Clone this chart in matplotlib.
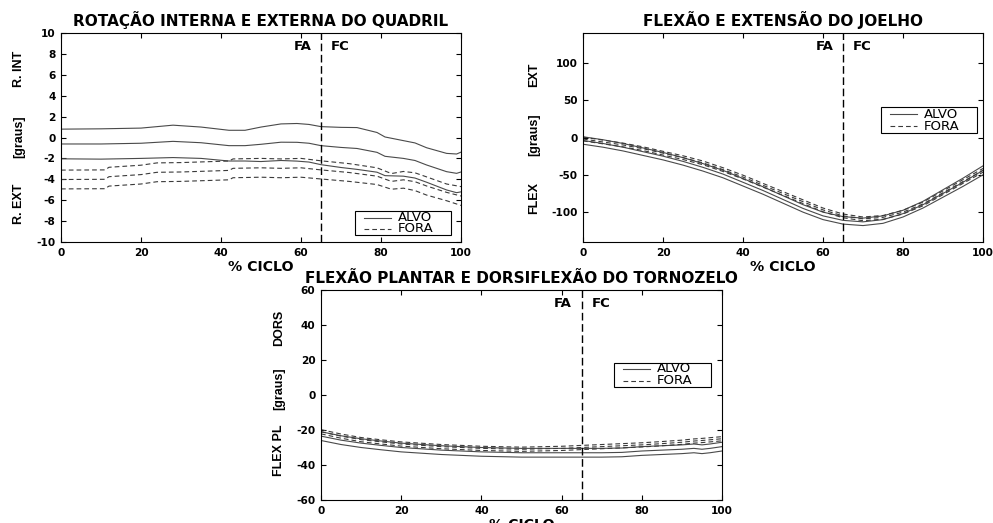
import numpy as np
import matplotlib
matplotlib.use("Agg")
import matplotlib.pyplot as plt
import matplotlib.transforms as mtransforms
from matplotlib import font_manager
from matplotlib.lines import Line2D
from matplotlib.patches import Rectangle

# ---------------------------------------------------------------
# Gait-cycle kinematics: mean and standard deviation per group
# ---------------------------------------------------------------
cycle_ticks = [0, 20, 40, 60, 80, 100]
toe_off = 65  # end of stance (FA) / start of swing (FC)
group_names = ["ALVO", "FORA"]

# Hip internal / external rotation [graus]
hip_alvo_x = [0, 10, 20, 28, 35, 42, 46, 50, 55, 59, 62, 65, 70, 74, 79, 81,
              85.6, 88.5, 91.4, 96.4, 98.9, 100]
hip_alvo_mean = [-0.62, -0.62, -0.55, -0.37, -0.5, -0.78, -0.78, -0.65, -0.45,
                 -0.46, -0.55, -0.78, -0.95, -1.05, -1.42, -1.8, -2.0, -2.2,
                 -2.63, -3.27, -3.43, -3.3]
hip_alvo_sd = [1.42, 1.45, 1.45, 1.55, 1.5, 1.47, 1.47, 1.65, 1.75, 1.8, 1.8,
               1.82, 1.92, 2.0, 1.9, 1.85, 1.7, 1.68, 1.65, 1.75, 1.85, 1.9]
hip_fora_x = [0, 11, 12, 20, 24, 30, 38, 42, 43, 50, 55, 60, 65, 72, 79, 82.6,
              85.6, 88.5, 91.4, 96.4, 100]
hip_fora_mean = [-4.02, -4.0, -3.75, -3.55, -3.33, -3.3, -3.2, -3.15, -2.95,
                 -2.9, -2.95, -2.9, -3.1, -3.35, -3.7, -4.2, -4.05, -4.23,
                 -4.64, -5.25, -5.6]
hip_fora_sd = [0.9, 0.9, 0.9, 0.9, 0.9, 0.9, 0.9, 0.9, 0.9, 0.9, 0.9, 0.9,
               0.87, 0.85, 0.8, 0.75, 0.8, 0.85, 0.87, 0.8, 0.9]

# Knee flexion / extension [graus]
knee_x = [0, 5, 10, 15, 20, 25, 30, 35, 40, 45, 50, 55, 60, 65, 70, 75, 80,
          85, 90, 95, 100]
knee_alvo_mean = [-4, -8, -13, -19, -25, -32, -40, -49, -60, -71, -83, -95,
                  -105, -111, -113, -110, -102, -90, -75, -60, -44]
knee_alvo_sd = [5, 5, 5, 5, 5, 5, 5, 5, 5, 5, 5, 5, 5, 5, 5, 5, 4.5, 4.5, 5,
                5.5, 6]
knee_fora_mean = [-2, -6, -10, -15, -21, -27, -34, -43, -53, -64, -75, -86,
                  -97, -105, -109, -107, -100, -89, -74, -59, -44]
knee_fora_sd = [2.5] * 21

# Ankle plantar flexion / dorsiflexion [graus]
ankle_x = [0, 5, 10, 15, 20, 30, 40, 50, 60, 65, 70, 75, 80, 85, 90, 93, 95,
           97, 100]
ankle_alvo_mean = [-23.5, -25.8, -27.5, -28.8, -30, -31.5, -32.5, -33, -33,
                   -33, -33, -32.8, -32, -31.5, -31, -30.5, -31, -30.5, -29.5]
ankle_alvo_sd = [2.5] * 19
ankle_fora_mean = [-21, -23.5, -25.5, -26.8, -28, -29.5, -30.5, -31, -30.5,
                   -30, -29.5, -29, -28.5, -27.8, -27, -26.3, -26, -25.6, -25]
ankle_fora_sd = [1.2] * 19

plt.rcParams["font.family"] = ["DejaVu Sans"]
plt.rcParams["lines.scale_dashes"] = False
plt.rcParams["axes.unicode_minus"] = False


def pick_family(candidates):
    for name in candidates:
        try:
            font_manager.findfont(font_manager.FontProperties(family=name),
                                  fallback_to_default=False)
            return name
        except Exception:
            continue
    return "DejaVu Sans"


narrow = pick_family(["Liberation Sans Narrow", "DejaVu Sans Condensed"])
side_size = 10.0 if narrow != "DejaVu Sans" else 9.0
if narrow == "DejaVu Sans":
    narrow = pick_family(["Liberation Sans"])

W, H = 993, 523
fig = plt.figure(figsize=(W / 100, H / 100), dpi=100)
fig.patch.set_facecolor("white")


def fig_xy(px, py):
    return px / W, 1 - py / H


def px_axes(left, top, right, bottom):
    return fig.add_axes([left / W, 1 - bottom / H, (right - left) / W,
                         (bottom - top) / H])


SOLID = dict(color="#4a4a4a", lw=0.8, linestyle="-")
DASH = dict(color="#3a3a3a", lw=0.8, linestyle=(0, (3.4, 2.2)))
TICKFONT = font_manager.FontProperties(family="DejaVu Sans", weight="bold",
                                       size=7.6)
YLAB = dict(family=narrow, weight="bold", size=side_size, rotation=90,
            ha="center", va="center")


def legend_box(box, rows):
    """Framed key with a solid and a dashed sample, in figure pixels."""
    l, t, r, b = box
    x0, y0 = fig_xy(l, b)
    x1, y1 = fig_xy(r, t)
    fig.add_artist(Rectangle((x0, y0), x1 - x0, y1 - y0,
                             transform=fig.transFigure, facecolor="white",
                             edgecolor="black", lw=0.8, zorder=5))
    for row_y, style, name in zip(rows, (SOLID, DASH), group_names):
        hx0, hy = fig_xy(l + 9, row_y)
        hx1, _ = fig_xy(l + 36, row_y)
        fig.add_artist(Line2D([hx0, hx1], [hy, hy], transform=fig.transFigure,
                              zorder=6, **style))
        tx, _ = fig_xy(l + 43, row_y)
        fig.text(tx, hy, name, ha="left", va="center", size=9.5,
                 family="DejaVu Sans", zorder=6)


def panel(ax, title, ylim, yticks, groups, ylabels, leg_box, leg_rows):
    for x, mean, sd, style in groups:
        m = np.asarray(mean, float)
        s = np.asarray(sd, float)
        for curve in (m + s, m, m - s):
            ax.plot(x, curve, **style)
    ax.set_xlim(0, 100)
    ax.set_ylim(*ylim)
    ax.set_xticks(cycle_ticks)
    ax.set_yticks(yticks)
    ax.tick_params(direction="in", top=True, right=True, length=3.5,
                   width=0.8, pad=4.0)
    for lab in ax.get_xticklabels() + ax.get_yticklabels():
        lab.set_fontproperties(TICKFONT)
    for sp in ax.spines.values():
        sp.set_linewidth(0.8)
        sp.set_color("black")
    ax.axvline(toe_off, color="black", lw=1.0, linestyle=(0, (5.5, 2.6)))
    tr = mtransforms.blended_transform_factory(ax.transData, ax.transAxes)
    ax.text(toe_off - 2.4, 0.935, "FA", transform=tr, ha="right", va="center",
            size=9.5, weight="bold")
    ax.text(toe_off + 2.4, 0.935, "FC", transform=tr, ha="left", va="center",
            size=9.5, weight="bold")
    ax.set_title(title, fontsize=11, fontweight="bold", pad=5.0)
    ax.set_xlabel("% CICLO", fontsize=10.2, fontweight="bold", labelpad=1.5)
    legend_box(leg_box, leg_rows)
    for (pos, text) in ylabels:
        fig.text(*fig_xy(*pos), text, **YLAB)


ax_hip = px_axes(61, 33, 461, 242)
panel(ax_hip, "ROTAÇÃO INTERNA E EXTERNA DO QUADRIL", (-10, 10),
      list(range(-10, 11, 2)),
      [(hip_alvo_x, hip_alvo_mean, hip_alvo_sd, SOLID),
       (hip_fora_x, hip_fora_mean, hip_fora_sd, DASH)],
      [((19, 69), "R. INT"), ((19, 137), "[graus]"), ((19, 204), "R. EXT")],
      (355, 211, 451, 235), (217.5, 229))

ax_knee = px_axes(583, 33, 983, 242)
panel(ax_knee, "FLEXÃO E EXTENSÃO DO JOELHO", (-140, 140),
      [-100, -50, 0, 50, 100],
      [(knee_x, knee_alvo_mean, knee_alvo_sd, SOLID),
       (knee_x, knee_fora_mean, knee_fora_sd, DASH)],
      [((534, 75), "EXT"), ((534, 135), "[graus]"), ((534, 198), "FLEX")],
      (881, 107, 977, 133), (114, 126))

ax_ankle = px_axes(321, 290, 722, 500)
panel(ax_ankle, "FLEXÃO PLANTAR E DORSIFLEXÃO DO TORNOZELO", (-60, 60),
      list(range(-60, 61, 20)),
      [(ankle_x, ankle_alvo_mean, ankle_alvo_sd, SOLID),
       (ankle_x, ankle_fora_mean, ankle_fora_sd, DASH)],
      [((279, 328), "DORS"), ((279, 389), "[graus]"), ((279, 450), "FLEX PL")],
      (614, 363, 711, 387), (369, 381))

fig.savefig("out.png", dpi=100)
